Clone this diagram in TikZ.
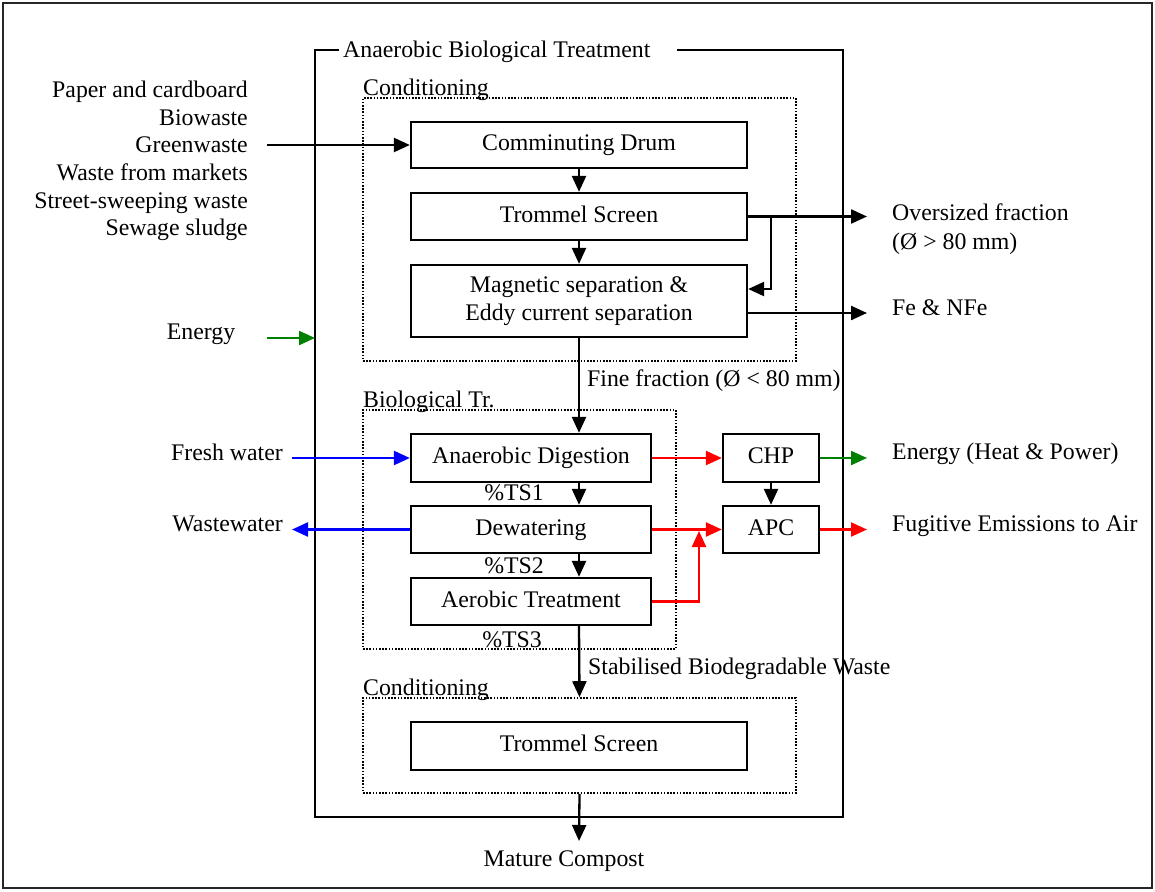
\documentclass[tikz,border=0pt]{standalone}
\usepackage{fontspec}
\setmainfont{Liberation Serif}
\usetikzlibrary{arrows.meta}
\definecolor{flowgreen}{RGB}{0,128,0}
\definecolor{flowred}{RGB}{255,0,0}
\definecolor{flowblue}{RGB}{0,0,255}
\begin{document}
\begin{tikzpicture}[x=1pt,y=-1pt,
  every node/.style={font=\fontsize{23.8}{27.7}\selectfont, inner sep=0pt,
    text height=16.3pt, text depth=5.2pt},
  multi/.style={text height=, text depth=},
  proc/.style={draw, line width=2.3pt, align=center},
  zone/.style={draw, line width=1.6pt, dash pattern=on 1.6pt off 1.6pt},
  frame/.style={line width=2.3pt},
  arr/.style={line width=2.3pt, -{Triangle[length=16pt,width=14pt]}},
  redarr/.style={arr, flowred},
  bluearr/.style={arr, flowblue},
  greenarr/.style={arr, flowgreen}]
\useasboundingbox (0,0) rectangle (1155,891);
\draw[line width=2.4pt, black!85] (3,3) rectangle (1152,888);

% overall treatment boundary with its title
\draw[frame] (339,50) -- (315,50) -- (315,817) -- (843,817) -- (843,50) -- (677,50);
\node[anchor=west] (title) at (343,52) {Anaerobic Biological Treatment};

% stage groupings
\node[zone, minimum width=433pt, minimum height=263pt] (cond1) at (579.5,229.5) {};
\node[zone, minimum width=313pt, minimum height=239pt] (bio) at (519.5,529.5) {};
\node[zone, minimum width=433pt, minimum height=95pt] (cond2) at (579.5,745.5) {};
\node[anchor=west] (cond1lbl) at (363,90) {Conditioning};
\node[anchor=west] (biolbl) at (363,401.5) {Biological Tr.};
\node[anchor=west] (cond2lbl) at (363,690) {Conditioning};

% process units
\node[proc, minimum width=336pt, minimum height=46pt] (drum) at (579,145) {Comminuting Drum};
\node[proc, minimum width=336pt, minimum height=47pt] (trom) at (579,216.5) {Trommel Screen};
\node[proc, multi, minimum width=336pt, minimum height=72pt] (mag) at (579,301) {Magnetic separation \&\\Eddy current separation};
\node[proc, minimum width=240pt, minimum height=48pt] (ad) at (531,458) {Anaerobic Digestion};
\node[proc, minimum width=240pt, minimum height=47pt] (dew) at (531,529.5) {Dewatering};
\node[proc, minimum width=240pt, minimum height=47pt] (aer) at (531,601.5) {Aerobic Treatment};
\node[proc, minimum width=96pt, minimum height=48pt] (chp) at (771,458) {CHP};
\node[proc, minimum width=96pt, minimum height=47pt] (apc) at (771,529.5) {APC};
\node[proc, minimum width=336pt, minimum height=48pt] (trom2) at (579,746) {Trommel Screen};

% solids content labels
\node (ts1) at (514,495) {\%TS1};
\node (ts2) at (514,568) {\%TS2};
\node (ts3) at (512,642) {\%TS3};

% inputs and outputs
\node[multi, anchor=east, align=right] (inputs) at (248,161) {Paper and cardboard\\Biowaste\\Greenwaste\\Waste from markets\\Street-sweeping waste\\Sewage sludge};
\node (energy) at (201,334) {Energy};
\node[anchor=east] (fresh) at (283,455) {Fresh water};
\node[anchor=east] (waste) at (283,525.5) {Wastewater};
\node[multi, anchor=west, align=left, font=\fontsize{23.8}{29.5}\selectfont] (oversz) at (892,229) {Oversized fraction\\(Ø > 80 mm)};
\node[anchor=west] (fe) at (892,310) {Fe \& NFe};
\node[anchor=west] (ehp) at (892,454) {Energy (Heat \& Power)};
\node[anchor=west] (fug) at (892,526) {Fugitive Emissions to Air};
\node (compost) at (564,861) {Mature Compost};
\node[anchor=west] (fine) at (587,381) {Fine fraction (Ø < 80 mm)};
\node[anchor=west] (stab) at (588,669) {Stabilised Biodegradable Waste};

% free ends of connectors
\coordinate (inA) at (267,145);
\coordinate (enA) at (267,338);
\coordinate (enB) at (315,338);
\coordinate (frA) at (292,458);
\coordinate (wwB) at (292,529.5);
\coordinate (split) at (771,216.5);
\coordinate (ovB) at (867,216.5);
\coordinate (feB) at (867,313);
\coordinate (ehpB) at (867,458);
\coordinate (fugB) at (867,529.5);
\coordinate (redUp) at (699,531);
\coordinate (mcB) at (579,841);

% main material flow
\draw[arr] (inA) -- (drum.west);
\draw[arr] (drum.south) -- (trom.north);
\draw[arr] (trom.south) -- (mag.north);
\draw[arr] (trom.east) -- (ovB);
\draw[arr] (split) |- ([yshift=12pt]mag.east);
\draw[arr] ([yshift=-12pt]mag.east) -- (feB);
\draw[arr] (mag.south) -- (mag.south |- ad.north);
\draw[arr] ([xshift=48pt]ad.south) -- ([xshift=48pt]dew.north);
\draw[arr] ([xshift=48pt]dew.south) -- ([xshift=48pt]aer.north);
\draw[arr] ([xshift=48pt]aer.south) -- (cond2.north);
\draw[arr] (cond2.south) -- (mcB);
\draw[arr] (chp.south) -- (apc.north);

% energy, water and gas flows
\draw[greenarr] (enA) -- (enB);
\draw[greenarr] (chp.east) -- (ehpB);
\draw[bluearr] (frA) -- (ad.west);
\draw[bluearr] (dew.west) -- (wwB);
\draw[redarr] (ad.east) -- (chp.west);
\draw[redarr] (dew.east) -- (apc.west);
\draw[redarr] (aer.east) -| (redUp);
\draw[redarr] (apc.east) -- (fugB);
\end{tikzpicture}
\end{document}
